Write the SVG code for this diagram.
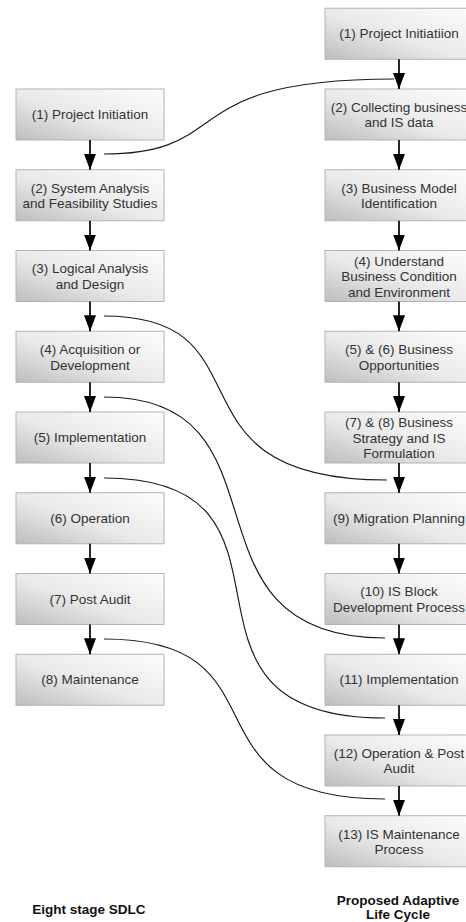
<svg xmlns="http://www.w3.org/2000/svg" width="466" height="922" viewBox="0 0 466 922">
<defs>
<linearGradient id="boxfill" x1="1" y1="0" x2="0" y2="1">
<stop offset="0" stop-color="#fdfdfd"/>
<stop offset="0.55" stop-color="#e9e9e9"/>
<stop offset="1" stop-color="#bdbdbd"/>
</linearGradient>
<marker id="ah" viewBox="0 0 16 12" refX="16" refY="6" markerWidth="16" markerHeight="12" markerUnits="userSpaceOnUse" orient="auto">
<path d="M0,0 L16,6 L0,12 z" fill="#000"/>
</marker>
</defs>
<style>
.box{fill:url(#boxfill);stroke:#b3b3b3;stroke-width:1}
.t{font-family:"Liberation Sans",Arial,sans-serif;font-size:13.5px;fill:#333;text-anchor:middle}
.title{font-family:"Liberation Sans",Arial,sans-serif;font-size:13.5px;font-weight:bold;fill:#111;text-anchor:middle}
.arr{stroke:#000;stroke-width:1.7;fill:none;marker-end:url(#ah)}
.cv{stroke:#1a1a1a;stroke-width:1.2;fill:none}
</style>
<rect width="466" height="922" fill="#fff"/>

<!-- Left column: Eight stage SDLC -->
<g id="L1"><rect class="box" x="16" y="89" width="148" height="51"/><text class="t" x="90" y="119">(1) Project Initiation</text></g>
<g id="L2"><rect class="box" x="16" y="169.75" width="148" height="51"/><text class="t" x="90" y="192.5">(2) System Analysis</text><text class="t" x="90" y="208">and Feasibility Studies</text></g>
<g id="L3"><rect class="box" x="16" y="250.5" width="148" height="51"/><text class="t" x="90" y="273.3">(3) Logical Analysis</text><text class="t" x="90" y="288.8">and Design</text></g>
<g id="L4"><rect class="box" x="16" y="331.25" width="148" height="51"/><text class="t" x="90" y="354">(4) Acquisition or</text><text class="t" x="90" y="369.5">Development</text></g>
<g id="L5"><rect class="box" x="16" y="412" width="148" height="51"/><text class="t" x="90" y="442">(5) Implementation</text></g>
<g id="L6"><rect class="box" x="16" y="492.75" width="148" height="51"/><text class="t" x="90" y="522.7">(6) Operation</text></g>
<g id="L7"><rect class="box" x="16" y="573.5" width="148" height="51"/><text class="t" x="90" y="603.5">(7) Post Audit</text></g>
<g id="L8"><rect class="box" x="16" y="654.25" width="148" height="51"/><text class="t" x="90" y="684.2">(8) Maintenance</text></g>

<!-- Right column: Proposed Adaptive Life Cycle -->
<g id="R1"><rect class="box" x="325" y="8.25" width="148" height="51"/><text class="t" x="399" y="38.2">(1) Project Initiatiion</text></g>
<g id="R2"><rect class="box" x="325" y="89" width="148" height="51"/><text class="t" x="399" y="111.8">(2) Collecting business</text><text class="t" x="399" y="127.3">and IS data</text></g>
<g id="R3"><rect class="box" x="325" y="169.75" width="148" height="51"/><text class="t" x="399" y="192.5">(3) Business Model</text><text class="t" x="399" y="208">Identification</text></g>
<g id="R4"><rect class="box" x="325" y="250.5" width="148" height="51"/><text class="t" x="399" y="265.5">(4) Understand</text><text class="t" x="399" y="281">Business Condition</text><text class="t" x="399" y="296.5">and Environment</text></g>
<g id="R5"><rect class="box" x="325" y="331.25" width="148" height="51"/><text class="t" x="399" y="354">(5) &amp; (6) Business</text><text class="t" x="399" y="369.5">Opportunities</text></g>
<g id="R6"><rect class="box" x="325" y="412" width="148" height="51"/><text class="t" x="399" y="427">(7) &amp; (8) Business</text><text class="t" x="399" y="442.5">Strategy and IS</text><text class="t" x="399" y="458">Formulation</text></g>
<g id="R7"><rect class="box" x="325" y="492.75" width="148" height="51"/><text class="t" x="399" y="522.7">(9) Migration Planning</text></g>
<g id="R8"><rect class="box" x="325" y="573.5" width="148" height="51"/><text class="t" x="399" y="596.3">(10) IS Block</text><text class="t" x="399" y="611.8">Development Process</text></g>
<g id="R9"><rect class="box" x="325" y="654.25" width="148" height="51"/><text class="t" x="399" y="684.2">(11) Implementation</text></g>
<g id="R10"><rect class="box" x="325" y="735" width="148" height="51"/><text class="t" x="399" y="757.8">(12) Operation &amp; Post</text><text class="t" x="399" y="773.3">Audit</text></g>
<g id="R11"><rect class="box" x="325" y="815.75" width="148" height="51"/><text class="t" x="399" y="838.5">(13) IS Maintenance</text><text class="t" x="399" y="854">Process</text></g>

<!-- Connectors -->
<g id="connectors">
<line class="arr" x1="90" y1="140" x2="90" y2="169.75"/>
<line class="arr" x1="90" y1="220.75" x2="90" y2="250.5"/>
<line class="arr" x1="90" y1="301.5" x2="90" y2="331.25"/>
<line class="arr" x1="90" y1="382.25" x2="90" y2="412"/>
<line class="arr" x1="90" y1="463" x2="90" y2="492.75"/>
<line class="arr" x1="90" y1="543.75" x2="90" y2="573.5"/>
<line class="arr" x1="90" y1="624.5" x2="90" y2="654.25"/>

<line class="arr" x1="399" y1="59.25" x2="399" y2="89"/>
<line class="arr" x1="399" y1="140" x2="399" y2="169.75"/>
<line class="arr" x1="399" y1="220.75" x2="399" y2="250.5"/>
<line class="arr" x1="399" y1="301.5" x2="399" y2="331.25"/>
<line class="arr" x1="399" y1="382.25" x2="399" y2="412"/>
<line class="arr" x1="399" y1="463" x2="399" y2="492.75"/>
<line class="arr" x1="399" y1="543.75" x2="399" y2="573.5"/>
<line class="arr" x1="399" y1="624.5" x2="399" y2="654.25"/>
<line class="arr" x1="399" y1="705.25" x2="399" y2="735"/>
<line class="arr" x1="399" y1="786" x2="399" y2="815.75"/>

<path class="cv" d="M104,154 C237,154 171,79 394,79"/>
<path class="cv" d="M104,316 C276,316 157,480 387,480"/>
<path class="cv" d="M104,397 C300,397 169,638 385,638"/>
<path class="cv" d="M104,478 C331,478 141,718 385,718"/>
<path class="cv" d="M104,639 C295,639 174,799 385,799"/>
</g>

<g id="titles">
<text class="title" x="89" y="914">Eight stage SDLC</text>
<text class="title" x="398" y="905">Proposed Adaptive</text>
<text class="title" x="398" y="919">Life Cycle</text>
</g>
</svg>
